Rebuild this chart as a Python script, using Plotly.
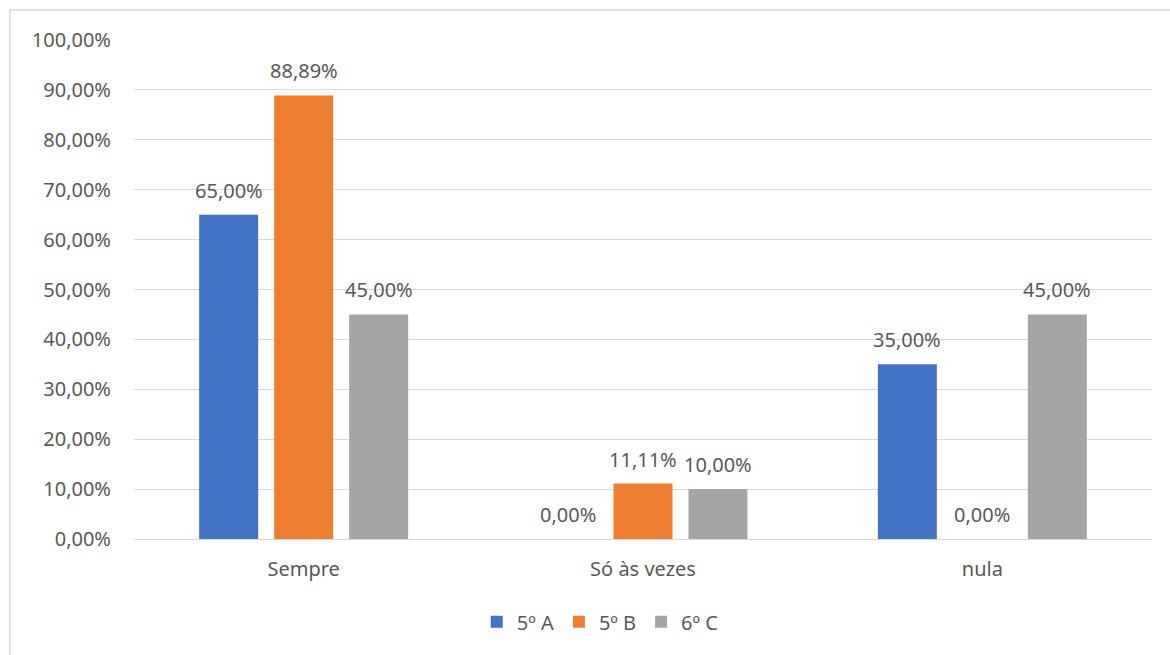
import plotly.graph_objects as go

categories = ["Sempre", "Só às vezes", "nula"]
series_names = ["5º A", "5º B", "6º C"]
values_5A = [0.65, 0.0, 0.35]
values_5B = [0.8889, 0.1111, 0.0]
values_6C = [0.45, 0.10, 0.45]
colors = ["#4472C4", "#ED7D31", "#A5A5A5"]
tick_vals = [i / 10 for i in range(11)]

series = [values_5A, values_5B, values_6C]
FONT = "Noto Sans"
FS = 20
TXT = "#595959"

fig = go.Figure()
for name, vals, col in zip(series_names, series, colors):
    fig.add_trace(go.Bar(x=categories, y=vals, name=name, marker_color=col,
                         marker_line_width=0))

# data labels
slot = 75
for i, vals in enumerate(series):
    for cat, v in zip(categories, vals):
        fig.add_annotation(x=cat, y=v, xref="x", yref="y",
                           text=f"{v*100:.2f}%".replace(".", ","),
                           showarrow=False, xshift=(i - 1) * slot,
                           yanchor="bottom", yshift=9,
                           font=dict(family=FONT, size=FS, color=TXT))

fig.add_shape(type="rect", xref="paper", yref="paper",
              x0=-0.1218, x1=1.2, y0=-0.5, y1=1.06,
              line=dict(color="#d9d9d9", width=1.5), layer="below")

fig.update_layout(
    width=1170, height=655,
    margin=dict(l=134, r=18, t=40, b=116),
    paper_bgcolor="white", plot_bgcolor="white",
    barmode="group", bargap=0.337, bargroupgap=0.213,
    separators=", ",
    font=dict(family=FONT, size=FS, color=TXT),
    legend=dict(orientation="h", x=0.458, xanchor="center", y=-0.166,
                yanchor="middle", font=dict(size=FS, color=TXT),
                itemwidth=30, traceorder="normal"),
    showlegend=True,
)
fig.update_yaxes(range=[0, 1], tickvals=tick_vals, tickformat=".2%",
                 showgrid=True, gridcolor="#d9d9d9", gridwidth=1,
                 zeroline=False, showline=False, ticks="",
                 ticklabelstandoff=22, tickfont=dict(size=FS, color=TXT))
fig.update_xaxes(showline=True, linecolor="#d9d9d9", linewidth=1,
                 ticks="", ticklabelstandoff=12,
                 tickfont=dict(size=FS, color=TXT))

fig.write_html("out.html")
